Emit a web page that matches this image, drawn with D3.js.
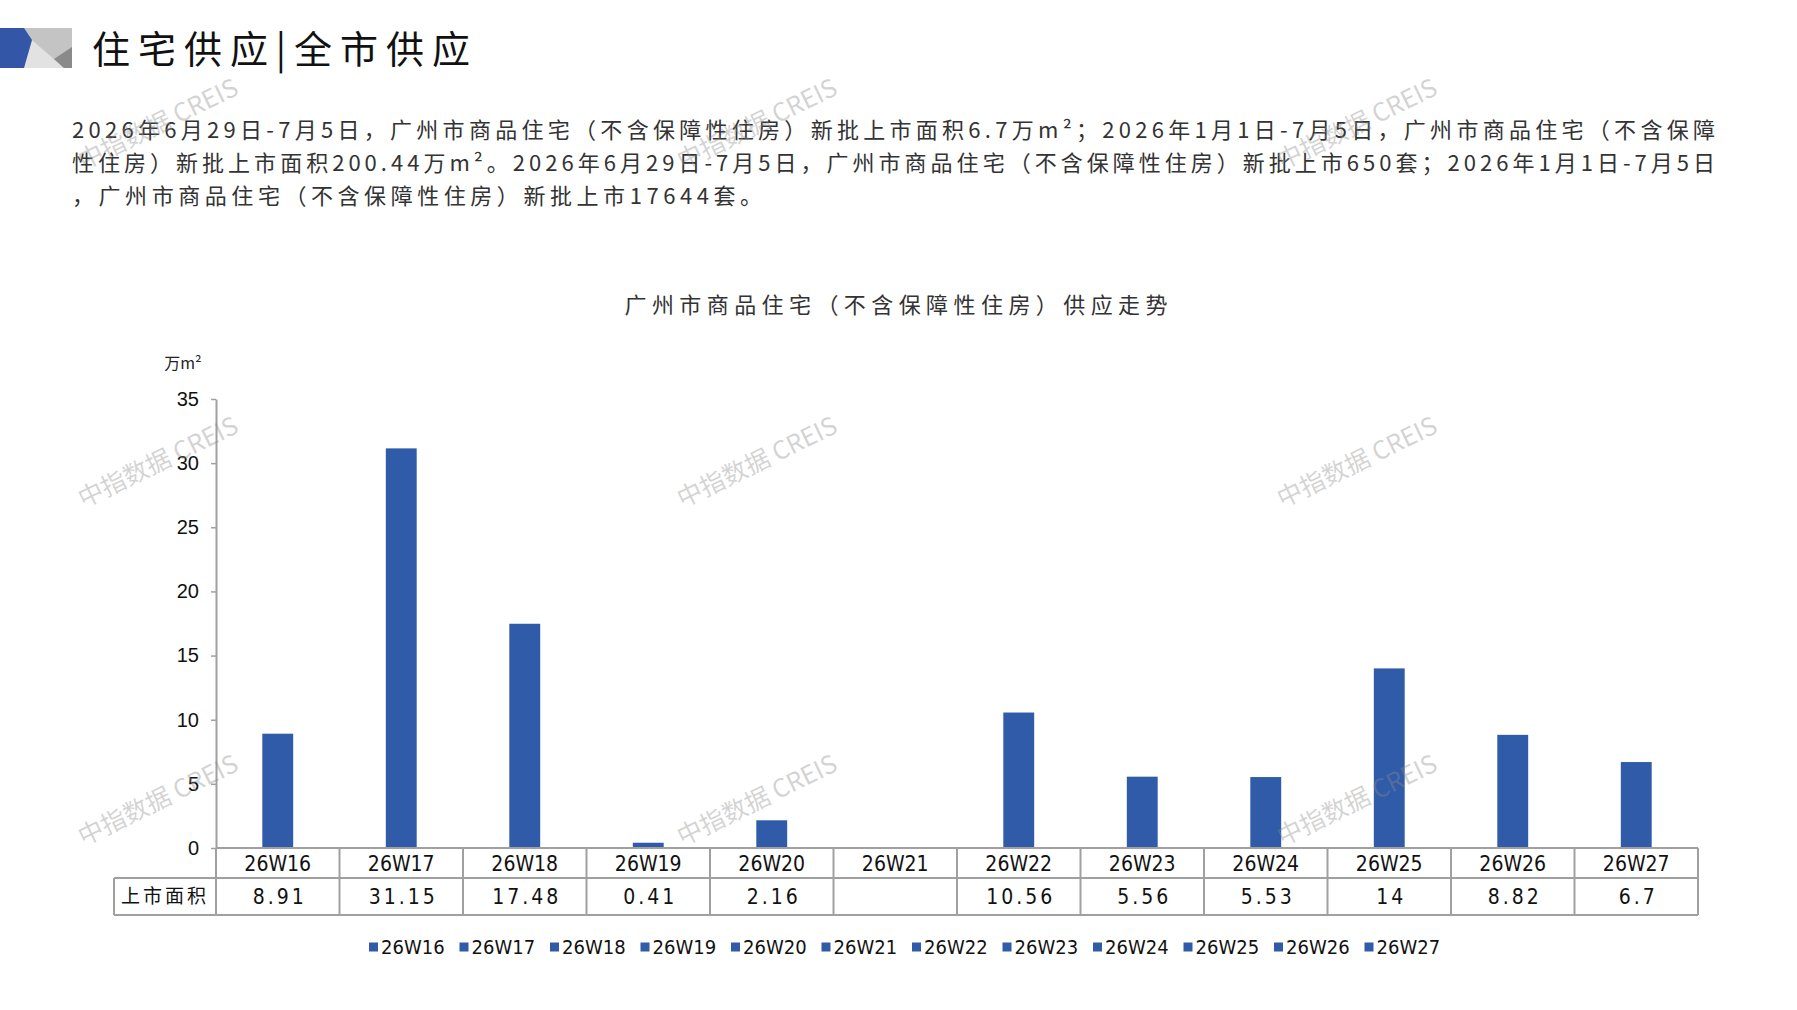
<!DOCTYPE html>
<html>
<head>
<meta charset="utf-8">
<script src="https://cdn.jsdelivr.net/npm/d3@7"></script>
<style>
  body { margin: 0; background: #fff; }
  svg { display: block; }
</style>
</head>
<body>
<div id="chart"></div>
<script>
// weekly new supply, 万m²
const weeks = ['26W16', '26W17', '26W18', '26W19', '26W20', '26W21', '26W22', '26W23', '26W24', '26W25', '26W26', '26W27'];
const area = [8.91, 31.15, 17.48, 0.41, 2.16, null, 10.56, 5.56, 5.53, 14, 8.82, 6.7];
const areaLabels = ['8.91', '31.15', '17.48', '0.41', '2.16', '', '10.56', '5.56', '5.53', '14', '8.82', '6.7'];
const yTicks = [0, 5, 10, 15, 20, 25, 30, 35];

const pageTitle = '住宅供应|全市供应';
const summary = [
  '2026年6月29日-7月5日，广州市商品住宅（不含保障性住房）新批上市面积6.7万m²；2026年1月1日-7月5日，广州市商品住宅（不含保障',
  '性住房）新批上市面积200.44万m²。2026年6月29日-7月5日，广州市商品住宅（不含保障性住房）新批上市650套；2026年1月1日-7月5日',
  '，广州市商品住宅（不含保障性住房）新批上市17644套。'
];
const chartTitle = '广州市商品住宅（不含保障性住房）供应走势';
const rowName = '上市面积';
const unit = '万m²';
const watermark = '中指数据 CREIS';

const W = 1797, H = 1010;
const BLUE = '#2f5ba8';
const GRID = '#a0a0a0';
const cjk = '"Noto Sans CJK SC", "Noto Sans", sans-serif';
const narrow = '"Liberation Sans Narrow", "DejaVu Sans Condensed", "Liberation Sans", sans-serif';

const svg = d3.select('#chart').append('svg')
  .attr('width', W)
  .attr('height', H);

// header badge
const badge = svg.append('g');
badge.append('rect').attr('x', 20).attr('y', 28).attr('width', 52).attr('height', 40).attr('fill', '#c4c4c4');
badge.append('polygon').attr('points', '23,68 32,40 64,68').attr('fill', '#e2e2e2');
badge.append('polygon').attr('points', '72,47 54,59 64,68 72,68').attr('fill', '#8a8a8a');
badge.append('polygon').attr('points', '0,28 24,28 32,40 24,68 0,68').attr('fill', '#3356a6');

svg.append('text')
  .attr('x', 92).attr('y', 63)
  .attr('font-family', cjk)
  .attr('font-size', 38)
  .attr('fill', '#111')
  .attr('textLength', 378)
  .attr('lengthAdjust', 'spacing')
  .text(pageTitle);

// summary paragraph
const lineLens = [1643, 1643, 690];
svg.append('g').selectAll('text')
  .data(summary)
  .join('text')
  .attr('x', 72)
  .attr('y', (d, i) => 138 + i * 33)
  .attr('font-family', cjk)
  .attr('font-size', 22)
  .attr('fill', '#333')
  .attr('textLength', (d, i) => lineLens[i])
  .attr('lengthAdjust', 'spacing')
  .text(d => d);

svg.append('text')
  .attr('x', 896).attr('y', 313)
  .attr('text-anchor', 'middle')
  .attr('font-family', cjk)
  .attr('font-size', 22)
  .attr('fill', '#333')
  .attr('textLength', 543)
  .attr('lengthAdjust', 'spacing')
  .text(chartTitle);

// scales
const left = 216, right = 1698, y0 = 848, yTop = 399;
const x = d3.scaleBand().domain(weeks).range([left, right]).paddingInner(0.75).paddingOuter(0.375);
const col = d3.scaleBand().domain(weeks).range([left, right]).padding(0);
const y = d3.scaleLinear().domain([0, 35]).range([y0, yTop]);

svg.append('text')
  .attr('x', 183).attr('y', 369)
  .attr('text-anchor', 'middle')
  .attr('font-family', cjk)
  .attr('font-size', 16)
  .attr('fill', '#222')
  .text(unit);

const yAxis = svg.append('g')
  .attr('transform', `translate(${left},0)`)
  .call(d3.axisLeft(y).tickValues(yTicks).tickSize(5).tickSizeOuter(0).tickPadding(12));
yAxis.select('.domain').attr('stroke', GRID).attr('stroke-width', 2);
yAxis.selectAll('.tick line').attr('stroke', GRID).attr('stroke-width', 1.5);
yAxis.selectAll('.tick text')
  .attr('font-family', '"Liberation Sans", Arial, sans-serif')
  .attr('font-size', 20)
  .attr('fill', '#111');

// bars
svg.append('g').selectAll('rect')
  .data(weeks.map((w, i) => ({ w, v: area[i] })).filter(d => d.v != null))
  .join('rect')
  .attr('x', d => x(d.w))
  .attr('y', d => y(d.v))
  .attr('width', x.bandwidth())
  .attr('height', d => y0 - y(d.v))
  .attr('fill', BLUE);

// data table under the axis
const row1 = 878, row2 = 915, tableLeft = 114;
const table = svg.append('g')
  .attr('stroke', GRID)
  .attr('stroke-width', 2)
  .attr('fill', 'none');
table.append('line').attr('x1', left).attr('x2', right).attr('y1', y0).attr('y2', y0);
table.append('line').attr('x1', tableLeft).attr('x2', right).attr('y1', row1).attr('y2', row1);
table.append('line').attr('x1', tableLeft).attr('x2', right).attr('y1', row2).attr('y2', row2);
table.append('line').attr('x1', tableLeft).attr('x2', tableLeft).attr('y1', row1).attr('y2', row2);
table.selectAll('line.sep')
  .data(weeks.concat(['end']))
  .join('line')
  .attr('class', 'sep')
  .attr('x1', d => d === 'end' ? right : col(d))
  .attr('x2', d => d === 'end' ? right : col(d))
  .attr('y1', y0)
  .attr('y2', row2);

svg.append('g').selectAll('text')
  .data(weeks)
  .join('text')
  .attr('x', d => col(d) + col.bandwidth() / 2)
  .attr('y', (y0 + row1) / 2)
  .attr('dy', '0.36em')
  .attr('text-anchor', 'middle')
  .attr('font-family', narrow)
  .attr('font-size', 21)
  .attr('fill', '#111')
  .text(d => d);

svg.append('g').selectAll('text')
  .data(weeks.map((w, i) => ({ w, t: areaLabels[i] })))
  .join('text')
  .attr('x', d => col(d.w) + col.bandwidth() / 2 + 2)
  .attr('y', (row1 + row2) / 2)
  .attr('dy', '0.36em')
  .attr('text-anchor', 'middle')
  .attr('font-family', narrow)
  .attr('font-size', 21)
  .attr('letter-spacing', 3)
  .attr('fill', '#111')
  .text(d => d.t);

svg.append('text')
  .attr('x', (tableLeft + left) / 2)
  .attr('y', (row1 + row2) / 2)
  .attr('dy', '0.36em')
  .attr('text-anchor', 'middle')
  .attr('font-family', cjk)
  .attr('font-size', 19)
  .attr('letter-spacing', 3)
  .attr('fill', '#111')
  .text(rowName);

// legend
const legend = svg.append('g').selectAll('g')
  .data(weeks)
  .join('g')
  .attr('transform', (d, i) => `translate(${369 + i * 90.5},947)`);
legend.append('rect')
  .attr('x', 0).attr('y', -4.5)
  .attr('width', 9).attr('height', 9)
  .attr('fill', BLUE);
legend.append('text')
  .attr('x', 12)
  .attr('dy', '0.36em')
  .attr('font-family', narrow)
  .attr('font-size', 20)
  .attr('fill', '#111')
  .text(d => d);

// watermarks
const wmX = [158, 757, 1357];
const wmY = [124, 462, 800];
svg.append('g').selectAll('text')
  .data(d3.cross(wmX, wmY))
  .join('text')
  .attr('transform', d => `translate(${d[0]},${d[1]}) rotate(-26)`)
  .attr('text-anchor', 'middle')
  .attr('dy', '0.35em')
  .attr('font-family', cjk)
  .attr('font-size', 25)
  .attr('fill', 'rgba(140,140,140,0.38)')
  .text(watermark);
</script>
</body>
</html>
